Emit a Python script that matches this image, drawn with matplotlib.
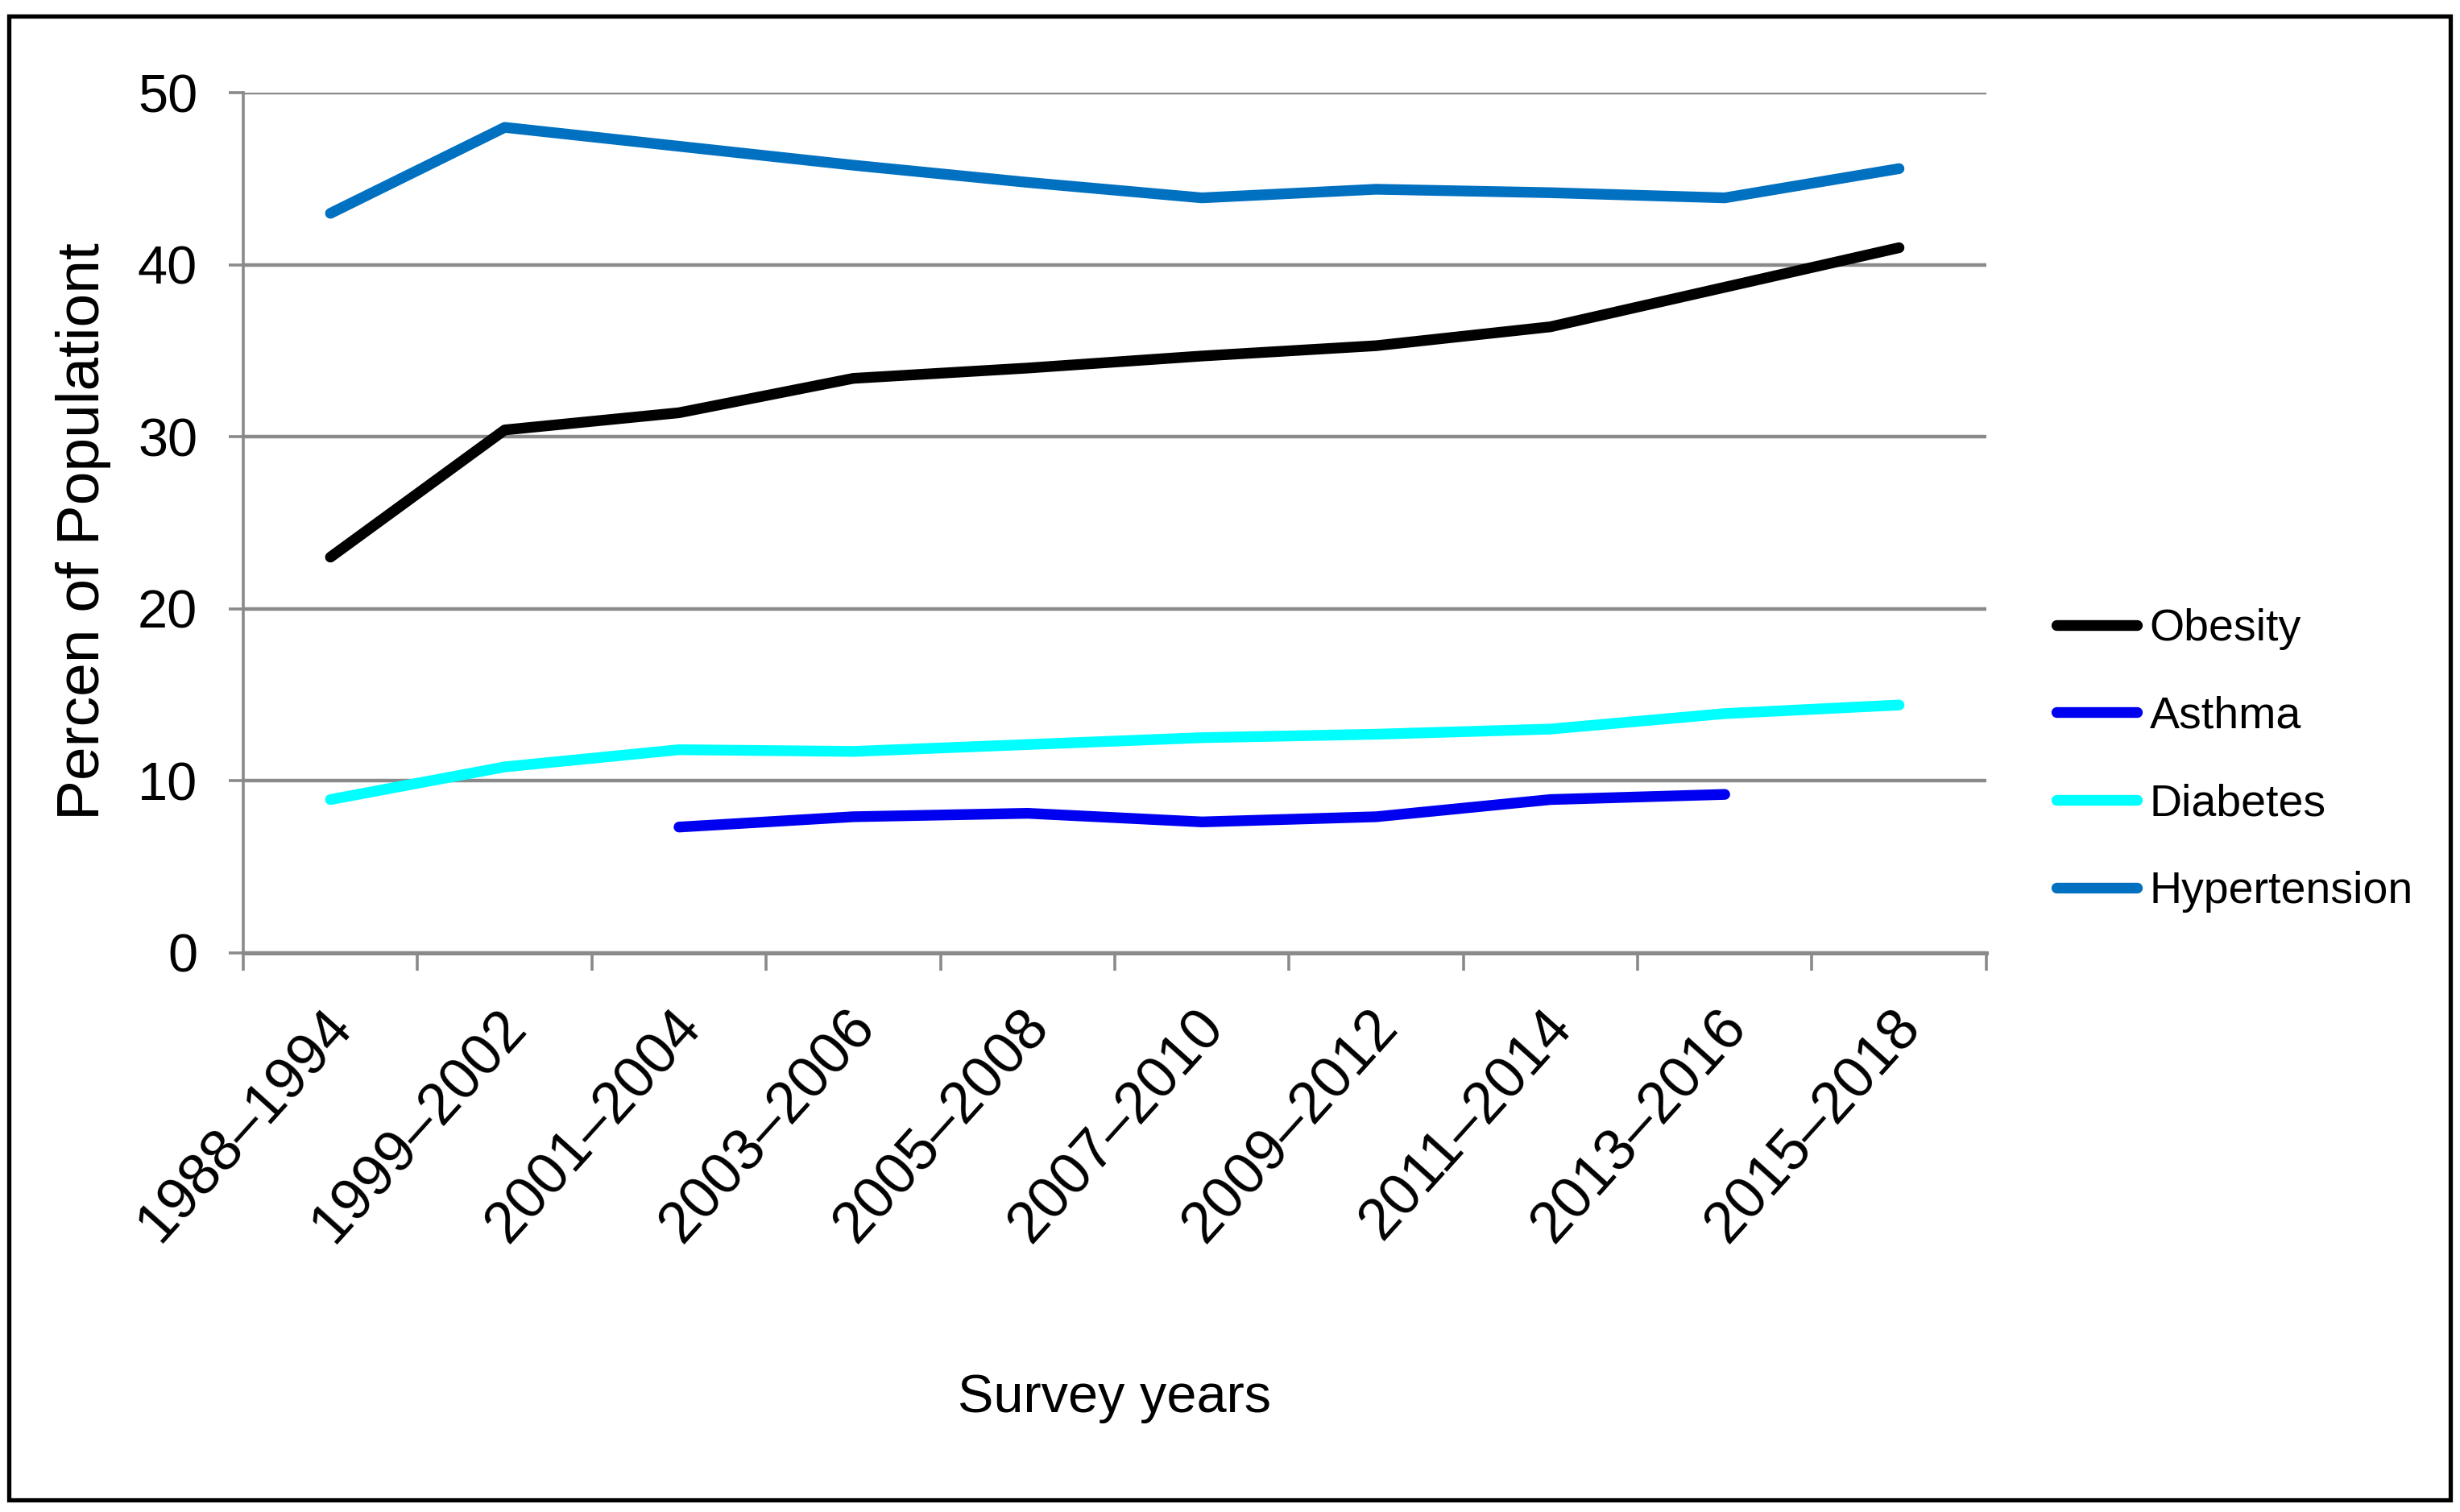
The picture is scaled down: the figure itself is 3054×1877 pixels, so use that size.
import numpy as np
import matplotlib
matplotlib.use("Agg")
import matplotlib.pyplot as plt
import matplotlib.patches as patches
import matplotlib.transforms as mtransforms

plt.rcParams['font.family'] = ['Liberation Sans', 'DejaVu Sans']

# data
survey_years = ['1988–1994', '1999–2002', '2001–2004', '2003–2006', '2005–2008',
                '2007–2010', '2009–2012', '2011–2014', '2013–2016', '2015–2018']
obesity = [23.0, 30.4, 31.4, 33.4, 34.0, 34.7, 35.3, 36.4, 38.7, 41.0]
asthma = [np.nan, np.nan, 7.3, 7.9, 8.1, 7.6, 7.9, 8.9, 9.2, np.nan]
diabetes = [8.9, 10.8, 11.8, 11.7, 12.1, 12.5, 12.7, 13.0, 13.9, 14.4]
hypertension = [43.0, 48.0, 46.9, 45.8, 44.8, 43.9, 44.4, 44.2, 43.9, 45.6]

series_names = ['Obesity', 'Asthma', 'Diabetes', 'Hypertension']
series_vals = [obesity, asthma, diabetes, hypertension]
series_cols = ['#000000', '#0000F0', '#00FFFF', '#0070C0']

fig = plt.figure(figsize=(15.27, 9.385), dpi=200)
ax = fig.add_axes([0.0989, 0.370, 0.7085, 0.5685])

x = np.arange(len(survey_years))
for name, vals, col in zip(series_names, series_vals, series_cols):
    ax.plot(x, vals, color=col, lw=4.8, label=name,
            solid_capstyle='round', solid_joinstyle='round', zorder=3)

ax.set_xlim(-0.5, len(survey_years) - 0.5)
ax.set_ylim(0, 50)
ax.set_yticks(np.arange(0, 51, 10))
ax.yaxis.grid(True, color='#8a8a8a', lw=1.6)
ax.set_axisbelow(True)

# ticks between categories, labels at category centres
ax.set_xticks(np.arange(-0.5, len(survey_years), 1.0))
ax.set_xticklabels([])
ax.set_xticks(x, minor=True)
ax.set_xticklabels(survey_years, minor=True, rotation=48, ha='right', va='top',
                   fontsize=26)
ax.tick_params(axis='x', which='minor', length=0, pad=21)
ax.tick_params(axis='x', which='major', length=8, width=1.3, color='#8a8a8a')
ax.tick_params(axis='y', length=6.5, width=1.3, color='#8a8a8a', pad=14,
               labelsize=24)
offset = mtransforms.ScaledTranslation(0.2, 0, fig.dpi_scale_trans)
for lab in ax.xaxis.get_minorticklabels():
    lab.set_transform(lab.get_transform() + offset)

for s in ['top', 'right']:
    ax.spines[s].set_visible(False)
ax.spines['left'].set_color('#8a8a8a')
ax.spines['left'].set_linewidth(1.3)
ax.spines['bottom'].set_color('#8a8a8a')
ax.spines['bottom'].set_linewidth(1.8)

ax.set_ylabel('Percen of Populationt', fontsize=27)
ax.yaxis.set_label_coords(-0.0756, 0.49)
ax.set_xlabel('Survey years', fontsize=24)
ax.xaxis.set_label_coords(0.5, -0.49)

fig.legend(loc='center left', bbox_to_anchor=(0.836, 0.497), frameon=False,
           fontsize=20, handlelength=1.8, handletextpad=0.28,
           labelspacing=1.02, borderpad=0, borderaxespad=0)

# black border round the whole picture
border = patches.Rectangle((11 / 3054, 1 - 1862 / 1877), (3042 - 11) / 3054,
                           (1862 - 20) / 1877, transform=fig.transFigure,
                           fill=False, edgecolor='black', lw=1.9)
fig.patches.append(border)

fig.savefig('out.png', dpi=200, facecolor='white')
